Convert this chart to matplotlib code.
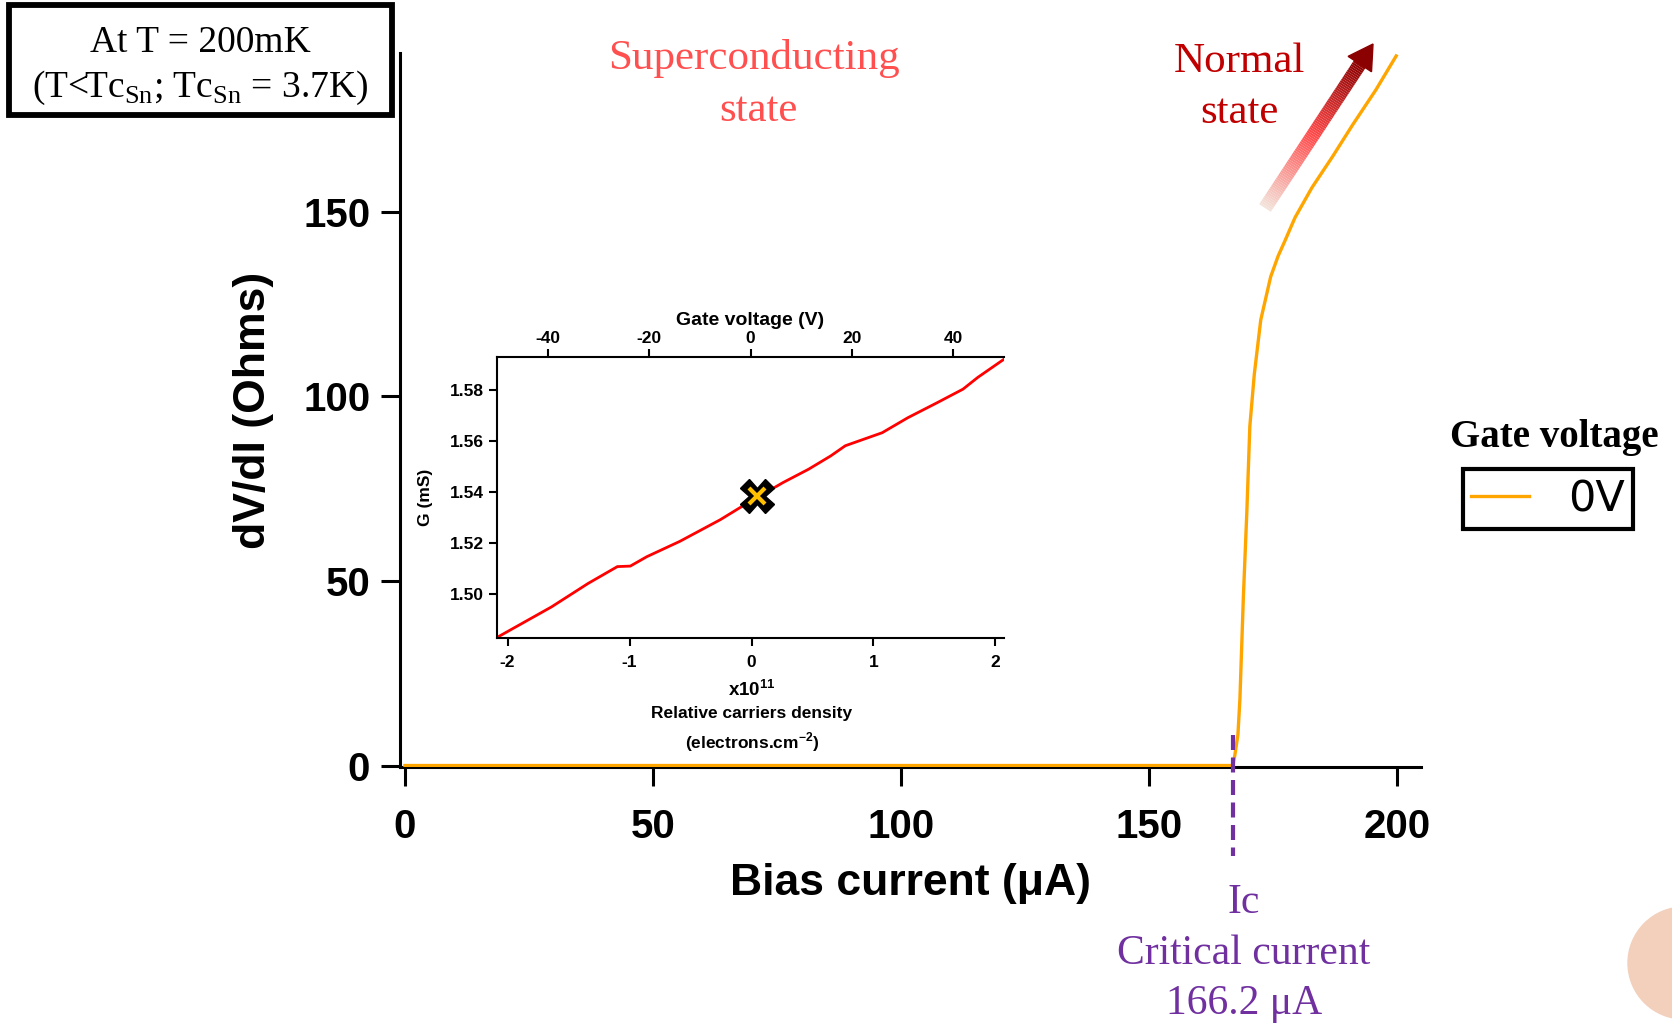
import numpy as np
import matplotlib.pyplot as plt
from matplotlib.collections import LineCollection
from matplotlib.colors import LinearSegmentedColormap
from matplotlib.patches import Rectangle, Polygon, Ellipse

# main curve: dV/dI vs bias current, gate voltage 0V
bias_current = [0, 166.9, 167.3, 167.9, 168.3, 168.6, 169.0, 169.7, 170.3, 171.2,
                172.5, 174.5, 176.0, 177.4, 179.4, 182.8, 187.0, 191.0, 195.7, 199.8]
dvdi = [0, 0, 3, 8.4, 18, 30, 45.8, 68.9, 91.9, 106,
        120.7, 132.4, 138.0, 142.2, 148.4, 156.5, 165, 173.5, 183, 192.2]
ic_value = 166.2
ic_drawn = 167.0

# inset: conductance vs carrier density
density = [-2.08, -1.64, -1.34, -1.10, -0.994, -0.858, -0.588, -0.256, -0.075, 0.256,
           0.468, 0.649, 0.769, 1.071, 1.282, 1.523, 1.734, 1.855, 2.066]
conductance = [1.4832, 1.495, 1.5042, 1.5108, 1.5110, 1.5147, 1.5207, 1.5292, 1.5345, 1.5437,
               1.549, 1.5542, 1.5582, 1.5633, 1.5692, 1.5751, 1.5804, 1.585, 1.592]
point_density = 0.045
point_g = 1.5384

ORANGE = '#FFA500'
PURPLE = '#7030A0'
SERIF = ['Liberation Serif', 'DejaVu Serif']

plt.rcParams['font.family'] = ['Liberation Sans', 'DejaVu Sans']
plt.rcParams['axes.unicode_minus'] = False
plt.rcParams['mathtext.fontset'] = 'custom'
plt.rcParams['mathtext.rm'] = 'Liberation Sans:bold'
plt.rcParams['mathtext.sf'] = 'Liberation Serif'

W, H = 1672, 1023


def fx(px):
    return px / W


def fy(py):
    return 1 - py / H


fig = plt.figure(figsize=(W / 100, H / 100), dpi=100)

# ---- main axes
ax = fig.add_axes([fx(400), fy(767), fx(1421) - fx(400), fy(53) - fy(767)])
line, = ax.plot(bias_current, dvdi, color=ORANGE, lw=2.4, label='0V', zorder=3)
ax.set_xlim(-1, 204.8)
ax.set_ylim(-0.4, 193)
for side in ['top', 'right']:
    ax.spines[side].set_visible(False)
for side in ['left', 'bottom']:
    ax.spines[side].set_linewidth(2.2)
ax.set_xticks([0, 50, 100, 150, 200])
ax.set_yticks([0, 50, 100, 150])
ax.tick_params(direction='out', length=13.5, width=2.2, labelsize=29)
ax.tick_params(axis='x', pad=16)
ax.tick_params(axis='y', pad=8)
for lab in ax.get_xticklabels() + ax.get_yticklabels():
    lab.set_fontweight('bold')
ax.set_xlabel('Bias current (μA)', fontsize=32, fontweight='bold')
ax.set_ylabel('dV/dI (Ohms)', fontsize=32, fontweight='bold')
ax.xaxis.set_label_coords(0.5, -0.134)
ax.yaxis.set_label_coords(-0.123, 0.5)

# critical current marker
ax.plot([ic_drawn, ic_drawn], [8.4, -24.6], color=PURPLE, lw=3,
        ls=(0, (3.6, 1.8)), clip_on=False, zorder=4)
for txt, py in [('Ic', 903), ('Critical current', 954), ('%.1f μA' % ic_value, 1004)]:
    fig.text(fx(1244), fy(py), txt, ha='center', va='center', fontsize=30,
             color=PURPLE, family=SERIF)

# state labels
fig.text(fx(754), fy(59), 'Superconducting', ha='center', va='center',
         fontsize=31, color='#FF4F4F', family=SERIF)
fig.text(fx(758), fy(111), 'state', ha='center', va='center',
         fontsize=31, color='#FF4F4F', family=SERIF)
fig.text(fx(1239), fy(62), 'Normal', ha='center', va='center',
         fontsize=31, color='#C00000', family=SERIF)
fig.text(fx(1239), fy(113), 'state', ha='center', va='center',
         fontsize=31, color='#C00000', family=SERIF)

# gradient arrow
x0, y0 = 1265, 208
tip = np.array([1373.0, 44.0])
start = np.array([x0, y0], dtype=float)
u = (tip - start) / np.hypot(*(tip - start))
n = np.array([-u[1], u[0]])
base = tip - 24 * u
nseg = 80
ts = np.linspace(0, 1, nseg + 1)
pts = start + np.outer(ts, base - start)
segs = [[(fx(pts[i, 0]), fy(pts[i, 1])), (fx(pts[i + 1, 0]), fy(pts[i + 1, 1]))]
        for i in range(nseg)]
cmap = LinearSegmentedColormap.from_list('arr', ['#F3E3DA', '#FF4A4A', '#8B0000'])
lc = LineCollection(segs, colors=cmap(ts[:-1]), linewidths=10, capstyle='butt',
                    transform=fig.transFigure)
fig.add_artist(lc)
head = [tip, base + 14 * n, base - 14 * n]
fig.add_artist(Polygon([(fx(p[0]), fy(p[1])) for p in head], closed=True,
                       color='#8B0000', transform=fig.transFigure))

# temperature box
fig.add_artist(Rectangle((fx(8.5), fy(115)), fx(392) - fx(8.5), fy(5) - fy(115),
                         fill=False, edgecolor='black', lw=4.2,
                         transform=fig.transFigure))
fig.text(fx(200), fy(43), 'At T = 200mK', ha='center', va='center',
         fontsize=27, family=SERIF)
fig.text(fx(200), fy(88), r'(T<Tc$_{\mathsf{Sn}}$; Tc$_{\mathsf{Sn}}$ = 3.7K)',
         ha='center', va='center', fontsize=27, family=SERIF)

# legend
fig.text(fx(1554), fy(437), 'Gate voltage', ha='center', va='center',
         fontsize=28, family=SERIF, fontweight='bold')
leg = ax.legend(handles=[line], loc='center', bbox_to_anchor=(fx(1548), fy(499)),
                bbox_transform=fig.transFigure, fontsize=31, frameon=True,
                fancybox=False, edgecolor='black', handlelength=1.35,
                handletextpad=0.9, borderpad=0.2, borderaxespad=0)
leg.get_frame().set_linewidth(3)
leg.get_frame().set_alpha(1)
leg.get_texts()[0].set_family(['DejaVu Sans'])

# decorative circle
fig.add_artist(Ellipse((fx(1684), fy(963)), 2 * 56 / W, 2 * 56 / H,
                       color='#F2D0BC', transform=fig.transFigure))

# ---- inset
ins = fig.add_axes([fx(497), fy(638), fx(1004) - fx(497), fy(357) - fy(638)])
ins.plot(density, conductance, color='red', lw=2)
ins.plot([point_density], [point_g], marker='X', ms=24, color='black', ls='none')
ins.plot([point_density], [point_g], marker='x', ms=12, mew=3, color='#FFC000', ls='none')
ins.set_xlim(-2.087, 2.07)
ins.set_ylim(1.4828, 1.593)
ins.set_xticks([-2, -1, 0, 1, 2])
ins.set_yticks([1.50, 1.52, 1.54, 1.56, 1.58])
ins.set_yticklabels(['%.2f' % v for v in [1.50, 1.52, 1.54, 1.56, 1.58]])
ins.spines['right'].set_visible(False)
ins.spines['top'].set_visible(False)
for side in ['left', 'bottom']:
    ins.spines[side].set_linewidth(1.5)
ins.tick_params(direction='out', length=6, width=1.5, labelsize=12.5)
ins.tick_params(axis='x', pad=6)
for lab in ins.get_xticklabels() + ins.get_yticklabels():
    lab.set_fontweight('bold')
ins.set_ylabel('G (mS)', fontsize=12.5, fontweight='bold', labelpad=12)

top = ins.twiny()
top.set_xlim(-50, 50)
top.set_xticks([-40, -20, 0, 20, 40])
for side in ['right', 'left', 'bottom']:
    top.spines[side].set_visible(False)
top.spines['top'].set_linewidth(1.5)
top.tick_params(direction='out', length=6, width=1.5, labelsize=12.5, pad=2)
for lab in top.get_xticklabels():
    lab.set_fontweight('bold')
top.set_xlabel('Gate voltage (V)', fontsize=14, fontweight='bold', labelpad=4)

ins.text(0.503, -0.185, 'x10$^{11}$', transform=ins.transAxes, ha='center',
         va='center', fontsize=13.5, fontweight='bold')
ins.text(0.503, -0.267, 'Relative carriers density', transform=ins.transAxes,
         ha='center', va='center', fontsize=12.5, fontweight='bold')
ins.text(0.503, -0.370, '(electrons.cm$^{-2}$)', transform=ins.transAxes,
         ha='center', va='center', fontsize=12.5, fontweight='bold')

fig.savefig('out.png', dpi=100)
